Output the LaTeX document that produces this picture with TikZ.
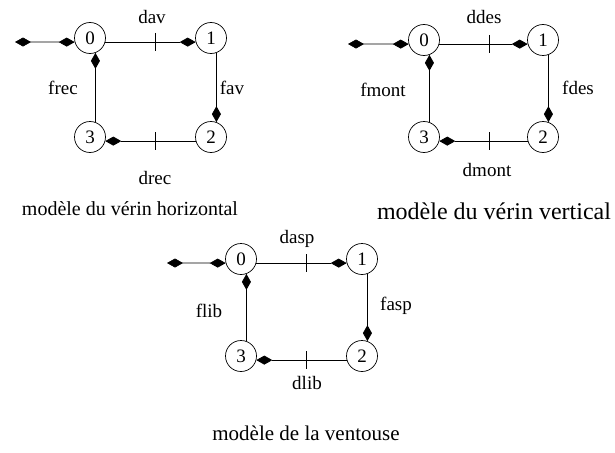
\documentclass[tikz,border=0pt]{standalone}
\usepackage{fontspec}
\setmainfont{Liberation Serif}
\usetikzlibrary{arrows.meta,calc}
\tikzset{
  st/.style={draw, circle, minimum size=31pt, inner sep=0pt, line width=0.7pt, font=\fontsize{19}{19}\selectfont},
  arr/.style={line width=0.7pt, -{Diamond[length=16pt,width=9pt]}},
  initarr/.style={line width=0.7pt, {Diamond[length=16pt,width=9pt]}-{Diamond[length=16pt,width=9pt]}},
  tk/.style={line width=0.7pt},
  lab/.style={font=\fontsize{19}{19}\selectfont, inner sep=0pt},
}
\newcommand\mkauto[6]{% #1 prefix, #2 x, #3 y, #4 dx, #5 dy, #6 init length
  \node[st] (#10) at (#2,#3) {0};
  \node[st] (#11) at ($(#10)+(#4,0)$) {1};
  \node[st] (#12) at ($(#10)+(#4,#5)$) {2};
  \node[st] (#13) at ($(#10)+(0,#5)$) {3};
  \coordinate (#1i) at ($(#10)+(-#6,4)$);
  \draw[initarr] (#1i) -- (#10.195);
  \draw[arr] (#10.-15) -- (#11.195);
  \draw[arr] (#11.-70.5) -- (#12.70.5);
  \draw[arr] (#12.195) -- (#13.-15);
  \draw[arr] (#13.70.5) -- (#10.-70.5);
  \draw[tk] ($(#10)+(65,-5)$) -- ($(#10)+(65,13)$);
  \draw[tk] ($(#13)+(65,-5)$) -- ($(#13)+(65,13)$);
}
\begin{document}
\begin{tikzpicture}[x=1pt,y=-1pt]
\useasboundingbox (0,0) rectangle (615,452);
% panel 1
\mkauto{a}{90}{38}{121}{99}{75}
\node[lab] (la1) at (152,17) {dav};
\node[lab] (la2) at (232,88) {fav};
\node[lab] (la3) at (155,178) {drec};
\node[lab] (la4) at (63,88) {frec};
\node[font=\fontsize{20}{20}\selectfont, inner sep=0pt] (ca) at (130,209) {modèle du vérin horizontal};
% panel 2
\mkauto{b}{424}{40}{119}{97}{76}
\node[lab] (lb1) at (484,17) {ddes};
\node[lab] (lb2) at (578,88) {fdes};
\node[lab] (lb3) at (487,170) {dmont};
\node[lab] (lb4) at (383,90) {fmont};
\node[font=\fontsize{24}{24}\selectfont, inner sep=0pt] (cb) at (494,211) {modèle du vérin vertical};
% panel 3
\mkauto{c}{241}{259}{121}{97}{74}
\node[lab] (lc1) at (297,239) {dasp};
\node[lab] (lc2) at (396,306) {fasp};
\node[lab] (lc3) at (307,383) {dlib};
\node[lab] (lc4) at (209,311) {flib};
\node[font=\fontsize{21}{21}\selectfont, inner sep=0pt] (cc) at (306,433) {modèle de la ventouse};
\end{tikzpicture}
\end{document}
